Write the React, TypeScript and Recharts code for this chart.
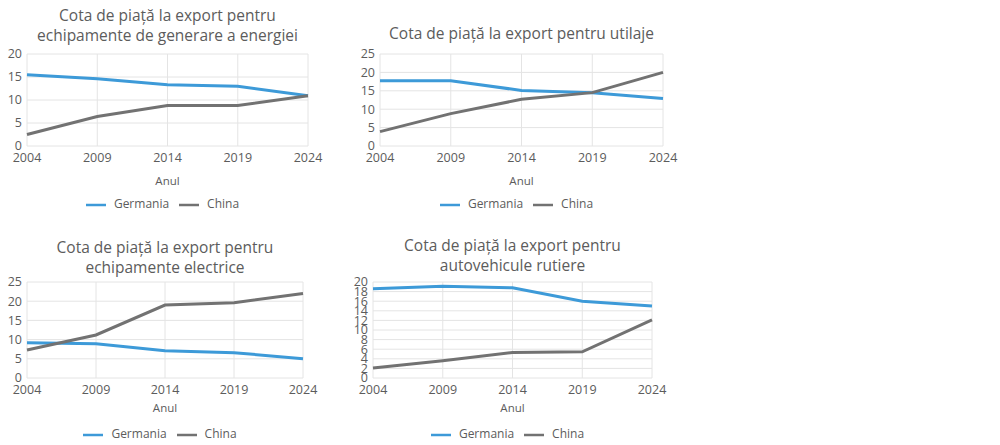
import { CartesianGrid, Legend, Line, LineChart, XAxis, YAxis } from "recharts";

const years = ["2004", "2009", "2014", "2019", "2024"];

const energyGermania = [15.5, 14.6, 13.3, 13.0, 10.9];
const energyChina = [2.5, 6.4, 8.8, 8.8, 10.9];
const machineryGermania = [17.7, 17.7, 15.1, 14.5, 12.9];
const machineryChina = [3.9, 8.8, 12.7, 14.5, 20.0];
const electricGermania = [9.2, 8.9, 7.1, 6.6, 5.0];
const electricChina = [7.3, 11.2, 19.0, 19.6, 22.0];
const vehicleGermania = [18.6, 19.1, 18.8, 16.0, 15.0];
const vehicleChina = [2.1, 3.6, 5.3, 5.45, 12.1];

const ticks20 = [0, 5, 10, 15, 20];
const ticks25 = [0, 5, 10, 15, 20, 25];
const ticks20by2 = [0, 2, 4, 6, 8, 10, 12, 14, 16, 18, 20];

const seriesOrder = ["Germania", "China"];

const blue = "#3d9ad8";
const gray = "#727272";
const textColor = "#5c5c5c";
const gridColor = "#e4e4e4";
const font = "'Open Sans', 'Noto Sans', sans-serif";
const axisH = 44;

type Panel = {
  title: string[];
  titleY: number;
  left: number;
  top: number;
  height: number;
  plot: { l: number; r: number; t: number; b: number };
  ticks: number[];
  germania: number[];
  china: number[];
  anulY: number;
  legendY: number;
};

const panels: Panel[] = [
  {
    title: ["Cota de piață la export pentru", "echipamente de generare a energiei"],
    titleY: 15,
    left: 0,
    top: 0,
    height: 222,
    plot: { l: 27, r: 308, t: 54, b: 146 },
    ticks: ticks20,
    germania: energyGermania,
    china: energyChina,
    anulY: 181,
    legendY: 206,
  },
  {
    title: ["Cota de piață la export pentru utilaje"],
    titleY: 33,
    left: 340,
    top: 0,
    height: 222,
    plot: { l: 380, r: 663, t: 54, b: 146 },
    ticks: ticks25,
    germania: machineryGermania,
    china: machineryChina,
    anulY: 181,
    legendY: 206,
  },
  {
    title: ["Cota de piață la export pentru", "echipamente electrice"],
    titleY: 247,
    left: 0,
    top: 225,
    height: 220,
    plot: { l: 27, r: 303, t: 282, b: 378 },
    ticks: ticks25,
    germania: electricGermania,
    china: electricChina,
    anulY: 408,
    legendY: 436,
  },
  {
    title: ["Cota de piață la export pentru", "autovehicule rutiere"],
    titleY: 245,
    left: 340,
    top: 225,
    height: 220,
    plot: { l: 373, r: 652, t: 282, b: 378 },
    ticks: ticks20by2,
    germania: vehicleGermania,
    china: vehicleChina,
    anulY: 408,
    legendY: 436,
  },
];

function ChartPanel({ p }: { p: Panel }) {
  const data = years.map((year, i) => ({ year, germania: p.germania[i], china: p.china[i] }));
  const width = 340;
  const margin = {
    top: p.plot.t - p.top,
    right: p.left + width - p.plot.r,
    bottom: p.top + p.height - p.plot.b - axisH,
    left: 0,
  };
  const centerX = (p.plot.l + p.plot.r) / 2 - p.left;
  const lineH = 20;
  return (
    <div style={{ position: "absolute", left: p.left, top: p.top, width, height: p.height }}>
      <LineChart width={width} height={p.height} data={data} margin={margin}>
        <CartesianGrid stroke={gridColor} />
        <XAxis
          dataKey="year"
          height={axisH}
          interval={0}
          tickLine={false}
          axisLine={false}
          tickSize={0}
          tickMargin={7}
          tick={{ fill: textColor, fontSize: 12.5, fontFamily: font }}
          label={{
            value: "Anul",
            position: "insideBottom",
            offset: p.plot.b + axisH - p.anulY - 4,
            fill: textColor,
            fontSize: 11.5,
            fontFamily: font,
          }}
        />
        <YAxis
          width={p.plot.l - p.left}
          domain={[0, p.ticks[p.ticks.length - 1]]}
          ticks={p.ticks}
          interval={0}
          tickLine={false}
          axisLine={false}
          tickSize={0}
          tickMargin={5}
          tick={{ fill: textColor, fontSize: 12.5, fontFamily: font }}
        />
        <Legend
          verticalAlign="middle"
          align="center"
          layout="horizontal"
          iconSize={20}
          itemSorter={(item: any) => seriesOrder.indexOf(String(item.value))}
          wrapperStyle={{
            top: p.legendY - p.top - 11,
            left: p.plot.l - p.left,
            width: p.plot.r - p.plot.l,
            fontSize: 12,
            fontFamily: font,
          }}
          formatter={(value) => <span style={{ color: textColor, marginLeft: 4 }}>{value}</span>}
        />
        <Line
          dataKey="germania"
          name="Germania"
          stroke={blue}
          strokeWidth={3}
          dot={false}
          legendType="plainline"
          isAnimationActive={false}
        />
        <Line
          dataKey="china"
          name="China"
          stroke={gray}
          strokeWidth={3}
          dot={false}
          legendType="plainline"
          isAnimationActive={false}
        />
      </LineChart>
      <div
        style={{
          position: "absolute",
          left: centerX - 170,
          width: 340,
          top: p.titleY - p.top - lineH / 2,
          textAlign: "center",
          fontFamily: font,
          fontSize: 15.5,
          lineHeight: `${lineH}px`,
          color: textColor,
          pointerEvents: "none",
        }}
      >
        {p.title.map((line) => (
          <div key={line}>{line}</div>
        ))}
      </div>
    </div>
  );
}

export default function App() {
  return (
    <div
      style={{
        position: "absolute",
        left: 0,
        top: 0,
        width: 1000,
        height: 445,
        background: "#fff",
        fontFamily: font,
      }}
    >
      {panels.map((p) => (
        <ChartPanel key={p.title.join(" ")} p={p} />
      ))}
    </div>
  );
}
